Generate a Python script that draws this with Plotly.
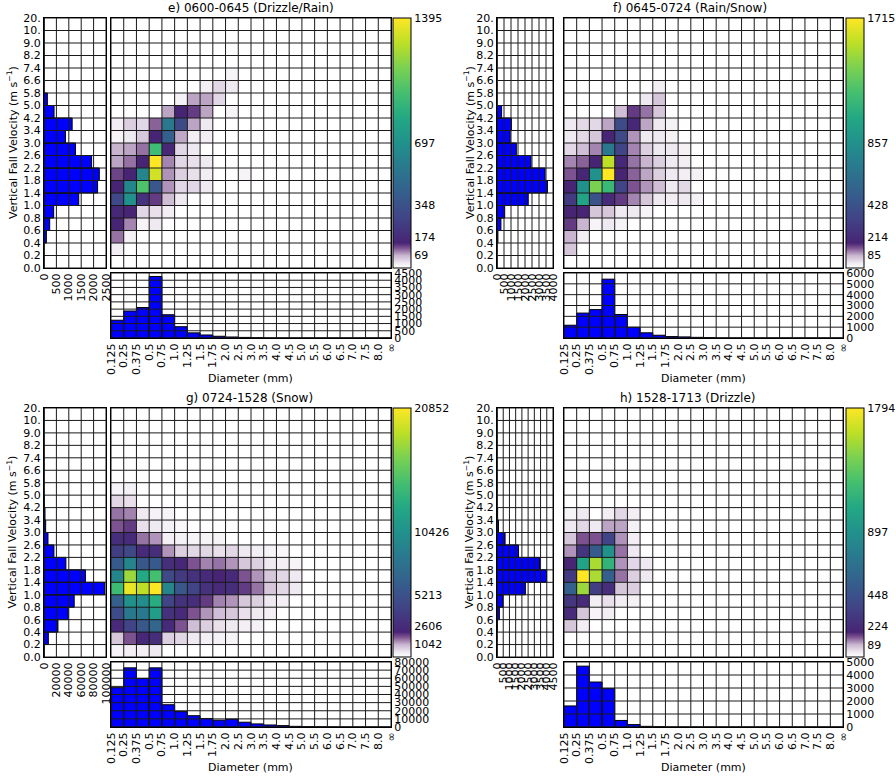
import plotly.graph_objects as go

W, H = 896, 778

# ---------------- data ----------------
diameter_labels = ['0.125', '0.25', '0.375', '0.5', '0.75', '1.0', '1.25', '1.5', '1.75', '2.0',
                   '2.5', '3.0', '3.5', '4.0', '4.5', '5.0', '5.5', '6.0', '6.5', '7.0', '7.5', '8.0', '∞']
velocity_labels = ['0.0', '0.2', '0.4', '0.6', '0.8', '1.0', '1.4', '1.8', '2.2', '2.6', '3.0',
                   '3.4', '4.2', '5.0', '5.8', '6.6', '7.4', '8.2', '9.0', '10.', '20.']

panel_titles = ['e) 0600-0645 (Drizzle/Rain)', 'f) 0645-0724 (Rain/Snow)',
                'g) 0724-1528 (Snow)', 'h) 1528-1713 (Drizzle)']

# 2-D counts: rows = velocity bins (bottom -> top), columns = diameter bins (left -> right)
e_counts = [
    [],
    [21],
    [98, 17],
    [140, 90, 14, 28],
    [155, 140, 42, 35, 21],
    [300, 700, 195, 125, 63, 28],
    [140, 630, 1000, 375, 84, 42, 42, 28],
    [120, 140, 630, 1300, 84, 49, 35, 21, 0, 0, 14],
    [77, 98, 140, 1395, 90, 42, 35, 28],
    [70, 77, 98, 950, 155, 42, 28],
    [14, 28, 56, 140, 420, 75, 21, 21],
    [21, 49, 42, 105, 560, 310, 77, 28],
    [0, 0, 0, 0, 77, 140, 125, 77, 0, 14],
    [0, 0, 0, 0, 0, 17, 77, 77, 42],
    [0, 0, 0, 0, 0, 0, 0, 21, 42, 28],
    [0, 0, 0, 0, 0, 0, 0, 0, 0, 14],
    [], [], [], [],
]
f_counts = [
    [],
    [69],
    [86, 26],
    [154, 86, 17, 34, 17],
    [172, 172, 69, 69, 34, 34, 17],
    [292, 995, 429, 206, 154, 111, 69, 34, 26, 34, 21],
    [172, 858, 1372, 1150, 343, 137, 103, 77, 34, 51],
    [137, 180, 858, 1715, 172, 129, 94, 60, 34, 26, 21],
    [111, 129, 172, 1544, 189, 120, 86, 60, 34, 26],
    [51, 77, 111, 686, 343, 111, 60, 34, 34, 21],
    [34, 51, 69, 172, 377, 103, 34, 34, 21],
    [34, 51, 51, 94, 395, 189, 94, 34, 21],
    [0, 0, 0, 0, 77, 154, 120, 69],
    [0, 0, 0, 0, 0, 0, 34, 69],
    [0, 0, 0, 0, 0, 0, 0, 26],
    [], [], [], [], [],
]
g_counts = [
    [210, 310, 310, 420],
    [830, 1670, 2290, 2710, 730, 630, 420, 310, 250, 210],
    [2500, 4170, 5630, 6880, 2500, 1670, 940, 730, 520, 420, 310, 250],
    [4800, 8340, 8340, 11470, 2920, 2500, 1670, 1250, 940, 830, 520, 420, 310],
    [6260, 10430, 10010, 12930, 4170, 2920, 2710, 1880, 1360, 1250, 830, 730, 420, 310],
    [14180, 20230, 18770, 20852, 9380, 5630, 4170, 2920, 2500, 2710, 1880, 1460, 830, 630, 420],
    [9380, 17720, 12510, 14600, 4590, 3550, 2920, 2500, 2090, 2500, 1670, 1250, 830, 630, 420],
    [5840, 9380, 5630, 5840, 2710, 2290, 1670, 1360, 1460, 1250, 830, 730, 420, 310, 210],
    [3750, 4590, 2500, 2710, 1250, 730, 630, 630, 520, 630, 420, 310, 210, 150],
    [2710, 2500, 1460, 1250, 310, 250, 210, 210, 210],
    [1670, 1880, 520, 420, 250, 150],
    [1460, 1360, 420, 250, 200],
    [630, 520],
    [210, 250],
    [], [], [], [], [], [],
]
h_counts = [
    [],
    [],
    [72, 27],
    [215, 72, 18, 27],
    [287, 215, 27, 45, 27, 22],
    [538, 1525, 323, 233, 72, 63],
    [305, 1794, 1561, 538, 126, 63, 36],
    [179, 1040, 1561, 1166, 108, 54, 36],
    [108, 269, 502, 897, 126, 36],
    [72, 144, 144, 359, 108, 27],
    [36, 54, 36, 99, 99, 22],
    [18, 36, 0, 27, 54, 27],
    [], [], [], [], [], [], [], [],
]

# velocity histograms (left panels), bottom -> top
e_velocity_hist = [0, 0, 95, 230, 390, 1400, 2160, 2230, 1920, 1270, 865, 1135, 405, 135, 0, 0, 0, 0, 0, 0]
f_velocity_hist = [0, 0, 65, 280, 550, 2230, 3600, 3430, 2430, 1380, 940, 1030, 330, 0, 0, 0, 0, 0, 0, 0]
g_velocity_hist = [300, 7000, 22500, 39000, 48700, 97900, 66800, 35300, 16000, 6400, 2700, 1600, 500,
                   0, 0, 0, 0, 0, 0, 0]
h_velocity_hist = [0, 0, 30, 190, 480, 2280, 3990, 3410, 1730, 650, 120, 50, 0, 0, 0, 0, 0, 0, 0, 0]

# diameter histograms (bottom panels), left -> right
e_diameter_hist = [1230, 1870, 2110, 4260, 1610, 780, 355, 210, 120, 70, 40, 20]
f_diameter_hist = [1180, 2300, 2620, 5430, 2170, 990, 480, 255, 130, 100, 60, 30]
g_diameter_hist = [48400, 72800, 59800, 72800, 27400, 18900, 13900, 10500, 8400, 9700, 5900, 3800,
                   2500, 1700, 800, 400, 200, 100]
h_diameter_hist = [1620, 4680, 3460, 2950, 505, 185, 50, 20]

# colorbar ticks
e_cbar_ticks = [69, 174, 348, 697, 1395]
f_cbar_ticks = [85, 214, 428, 857, 1715]
g_cbar_ticks = [1042, 2606, 5213, 10426, 20852]
h_cbar_ticks = [89, 224, 448, 897, 1794]

# histogram axis ticks
e_vel_axis_ticks = [0, 500, 1000, 1500, 2000, 2500]
f_vel_axis_ticks = [0, 500, 1000, 1500, 2000, 2500, 3000, 3500, 4000]
g_vel_axis_ticks = [0, 20000, 40000, 60000, 80000, 100000]
h_vel_axis_ticks = [0, 500, 1000, 1500, 2000, 2500, 3000, 3500, 4000, 4500]

e_diam_axis_ticks = [0, 500, 1000, 1500, 2000, 2500, 3000, 3500, 4000, 4500]
f_diam_axis_ticks = [0, 1000, 2000, 3000, 4000, 5000, 6000]
g_diam_axis_ticks = [0, 10000, 20000, 30000, 40000, 50000, 60000, 70000, 80000]
h_diam_axis_ticks = [0, 1000, 2000, 3000, 4000, 5000]

# ---------------- styling / layout ----------------
NX = len(diameter_labels) - 1
NY = len(velocity_labels) - 1

colorscale = [
    [0.0, '#ffffff'], [0.02, '#efe9f1'], [0.05, '#c9b5cf'], [0.08, '#7d5290'],
    [0.1, '#482475'], [0.2, '#414487'], [0.3, '#355f8d'], [0.4, '#2a788e'],
    [0.5, '#21918c'], [0.6, '#22a884'], [0.7, '#44bf70'], [0.8, '#7ad151'],
    [0.9, '#bddf26'], [1.0, '#fde725'],
]

panels = [
    dict(counts=e_counts, vh=e_velocity_hist, dh=e_diameter_hist, cb=e_cbar_ticks,
         vt=e_vel_axis_ticks, dt=e_diam_axis_ticks,
         left=(44, 106), main=(111, 391), top=18, bottom=268, hist=(273, 338), cbx=393,
         ylab_x=12, title_x=251),
    dict(counts=f_counts, vh=f_velocity_hist, dh=f_diameter_hist, cb=f_cbar_ticks,
         vt=f_vel_axis_ticks, dt=f_diam_axis_ticks,
         left=(497, 553), main=(564, 843), top=18, bottom=268, hist=(273, 338), cbx=846,
         ylab_x=469, title_x=690),
    dict(counts=g_counts, vh=g_velocity_hist, dh=g_diameter_hist, cb=g_cbar_ticks,
         vt=g_vel_axis_ticks, dt=g_diam_axis_ticks,
         left=(44, 106), main=(111, 391), top=408, bottom=657, hist=(662, 727), cbx=393,
         ylab_x=12, title_x=249),
    dict(counts=h_counts, vh=h_velocity_hist, dh=h_diameter_hist, cb=h_cbar_ticks,
         vt=h_vel_axis_ticks, dt=h_diam_axis_ticks,
         left=(497, 553), main=(564, 843), top=408, bottom=657, hist=(662, 727), cbx=846,
         ylab_x=469, title_x=688),
]

FONT = 'DejaVu Sans'
GRID = '#1a1a1a'


def pad(row, n):
    return list(row) + [0] * (n - len(row))


def xd(a, b):
    return [a / W, b / W]


def yd(top, bottom):
    return [1 - bottom / H, 1 - top / H]


def aname(kind, n):
    return f'{kind}axis' if n == 1 else f'{kind}axis{n}'


def aref(kind, n):
    return kind if n == 1 else f'{kind}{n}'


common = dict(showgrid=False, zeroline=False, showline=True, mirror=True, linecolor='black',
              linewidth=1, ticks='', fixedrange=True, automargin=False,
              tickfont=dict(family=FONT, size=11, color='black'))

fig = go.Figure()
layout = dict(width=W, height=H, margin=dict(l=0, r=0, t=0, b=0), template='none',
              paper_bgcolor='white', plot_bgcolor='white', showlegend=False,
              font=dict(family=FONT, size=11, color='black'))
shapes = []
annotations = []


def grid(n, xs, ys):
    xr, yr = aref('x', n), aref('y', n)
    for v in xs:
        shapes.append(dict(type='line', xref=xr, yref=yr, x0=v, x1=v, y0=ys[0], y1=ys[-1],
                           line=dict(color=GRID, width=1), layer='above'))
    for v in ys:
        shapes.append(dict(type='line', xref=xr, yref=yr, x0=xs[0], x1=xs[-1], y0=v, y1=v,
                           line=dict(color=GRID, width=1), layer='above'))


for p, P in enumerate(panels):
    im, il, ib = 3 * p + 1, 3 * p + 2, 3 * p + 3
    z = [pad(r, NX) for r in P['counts']]
    vmax = P['cb'][-1]
    top, bot = P['top'], P['bottom']

    # main heatmap
    fig.add_trace(go.Heatmap(
        z=z, x=list(range(NX + 1)), y=list(range(NY + 1)), zmin=0, zmax=vmax,
        colorscale=colorscale, xaxis=aref('x', im), yaxis=aref('y', im),
        colorbar=dict(x=P['cbx'] / W, xanchor='left', y=1 - bot / H, yanchor='bottom',
                      len=(bot - top) / H, lenmode='fraction', thickness=18, thicknessmode='pixels',
                      xpad=0, ypad=0, outlinecolor='black', outlinewidth=1,
                      tickvals=P['cb'], ticktext=[str(v) for v in P['cb']], ticks='',
                      tickfont=dict(family=FONT, size=11, color='black')),
    ))
    layout[aname('x', im)] = dict(domain=xd(*P['main']), range=[0, NX], showticklabels=False,
                                  anchor=aref('y', im), **common)
    layout[aname('y', im)] = dict(domain=yd(top, bot), range=[0, NY], showticklabels=False,
                                  anchor=aref('x', im), **common)
    grid(im, list(range(NX + 1)), list(range(NY + 1)))

    # left velocity histogram
    fig.add_trace(go.Bar(
        x=pad(P['vh'], NY), y=[i + 0.5 for i in range(NY)], orientation='h', width=1,
        marker=dict(color='#0000ff', line=dict(color='black', width=1)),
        xaxis=aref('x', il), yaxis=aref('y', il)))
    layout[aname('x', il)] = dict(domain=xd(*P['left']), range=[0, P['vt'][-1]],
                                  tickvals=P['vt'], ticktext=[str(v) for v in P['vt']],
                                  tickangle=-90, anchor=aref('y', il), **common)
    layout[aname('y', il)] = dict(domain=yd(top, bot), range=[0, NY],
                                  tickvals=list(range(NY + 1)), ticktext=velocity_labels,
                                  anchor=aref('x', il), **common)
    grid(il, P['vt'], list(range(NY + 1)))

    # bottom diameter histogram
    fig.add_trace(go.Bar(
        x=[i + 0.5 for i in range(NX)], y=pad(P['dh'], NX), width=1,
        marker=dict(color='#0000ff', line=dict(color='black', width=1)),
        xaxis=aref('x', ib), yaxis=aref('y', ib)))
    layout[aname('x', ib)] = dict(domain=xd(*P['main']), range=[0, NX],
                                  tickvals=list(range(NX + 1)), ticktext=diameter_labels,
                                  tickangle=-90, anchor=aref('y', ib), **common)
    layout[aname('y', ib)] = dict(domain=yd(*P['hist']), range=[0, P['dt'][-1]], side='right',
                                  tickvals=P['dt'], ticktext=[str(v) for v in P['dt']],
                                  anchor=aref('x', ib), **common)
    grid(ib, list(range(NX + 1)), P['dt'])

    # texts
    mx = (P['main'][0] + P['main'][1]) / 2
    annotations.append(dict(text=panel_titles[p], x=P['title_x'] / W, y=1 - (top - 1) / H,
                            xref='paper', yref='paper', xanchor='center', yanchor='bottom',
                            showarrow=False, font=dict(family=FONT, size=12, color='black')))
    annotations.append(dict(text='Diameter (mm)', x=mx / W, y=1 - (P['hist'][1] + 40) / H,
                            xref='paper', yref='paper', xanchor='center', yanchor='middle',
                            showarrow=False, font=dict(family=FONT, size=11, color='black')))
    annotations.append(dict(text='Vertical Fall Velocity (m s<sup>−1</sup>)', textangle=-90,
                            x=P['ylab_x'] / W, y=1 - (top + bot) / 2 / H,
                            xref='paper', yref='paper', xanchor='center', yanchor='middle',
                            showarrow=False, font=dict(family=FONT, size=11, color='black')))

layout['shapes'] = shapes
layout['annotations'] = annotations
fig.update_layout(**layout)
fig.write_html('out.html', config={'displayModeBar': False},
               post_script="document.body.style.margin='0';document.body.style.padding='0';")
